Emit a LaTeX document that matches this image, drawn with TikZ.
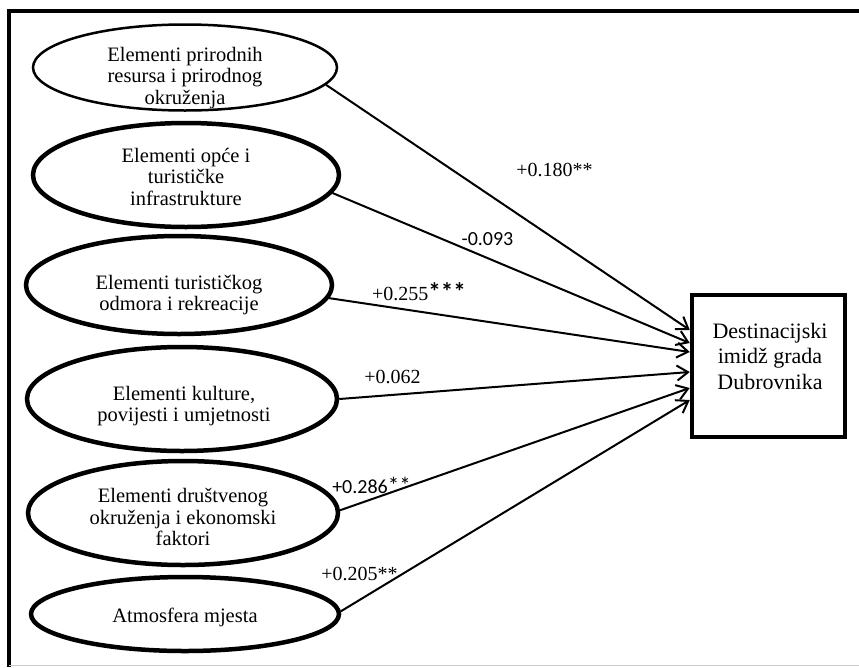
\documentclass[tikz,border=0pt]{standalone}
\usepackage{fontspec}
\setmainfont{Liberation Serif}
\newfontfamily\calfont{Carlito}
\usetikzlibrary{shapes.geometric,arrows.meta}
\begin{document}
\begin{tikzpicture}[x=1pt,y=-1pt,
  ellthin/.style={ellipse,draw,line width=2.5pt,inner sep=0pt},
  ellthick/.style={ellipse,draw,line width=4.5pt,inner sep=0pt},
  etext/.style={align=center,inner sep=0pt,font=\fontsize{20.5}{21.5}\selectfont},
  rtext/.style={align=center,inner sep=0pt,font=\fontsize{22}{25.5}\selectfont},
  lab/.style={inner sep=0pt,font=\fontsize{20}{24}\selectfont},
  labc/.style={inner sep=0pt,font=\calfont\fontsize{20}{24}\selectfont},
  conn/.style={line width=2pt,-{Straight Barb[length=11pt,width=15pt,line width=2pt]}}]
\useasboundingbox (0,0) rectangle (859,667);
\fill[white] (0,0) rectangle (859,667);
% frame
\draw[line width=4pt] (9,667) -- (9,11) -- (859,11);
\draw[gray!40,line width=1.5pt] (9,665.5) -- (859,665.5);
% ellipses
\node[ellthin,minimum width=304pt,minimum height=86pt] (e1) at (185,67.5) {};
\node[ellthick,minimum width=306pt,minimum height=104pt] (e2) at (186,175) {};
\node[ellthick,minimum width=306pt,minimum height=98pt] (e3) at (179,285) {};
\node[ellthick,minimum width=310pt,minimum height=104pt] (e4) at (182,399) {};
\node[ellthick,minimum width=310pt,minimum height=104pt] (e5) at (183,513) {};
\node[ellthick,minimum width=308pt,minimum height=74pt] (e6) at (185,614) {};
\node[etext] (t1) at (185,78) {Elementi prirodnih\\resursa i prirodnog\\okruženja};
\node[etext] (t2) at (186,176.5) {Elementi opće i\\turističke\\infrastrukture};
\node[etext] (t3) at (179,295) {Elementi turističkog\\odmora i rekreacije};
\node[etext] (t4) at (184,406) {Elementi kulture,\\povijesti i umjetnosti};
\node[etext] (t5) at (183,517) {Elementi društvenog\\okruženja i ekonomski\\faktori};
\node[etext] (t6) at (185,617) {Atmosfera mjesta};
% target box
\node[draw,line width=4.5pt,minimum width=153pt,minimum height=142pt,inner sep=0pt] (r) at (768.5,366) {};
\node[rtext] (rt) at (770,356) {Destinacijski\\imidž grada\\Dubrovnika};
% connectors
\draw[conn] (e1.-7) -- ([yshift=36pt]r.west);
\draw[conn] (e2.-7) -- ([yshift=23pt]r.west);
\draw[conn] (e3.-5) -- ([yshift=14pt]r.west);
\draw[conn] (e4.0) -- ([yshift=-6pt]r.west);
\draw[conn] (e5.1) -- ([yshift=-22pt]r.west);
\draw[conn] (e6.1) -- ([yshift=-34pt]r.west);
% labels
\node[lab] (l1) at (554.5,170) {+0.180**};
\node[labc] (l2) at (487.5,239) {-0.093};
\node[lab] (l3) at (419,291.5) {+0.255{\calfont\bfseries\fontsize{25}{25}\selectfont ***}};
\node[lab] (l4) at (392.5,376.5) {+0.062};
\node[labc] (l5) at (371.5,485) {+0.286{\fontsize{23}{24}\selectfont **}};
\node[lab] (l6) at (359.5,573.5) {+0.205**};
\end{tikzpicture}
\end{document}
